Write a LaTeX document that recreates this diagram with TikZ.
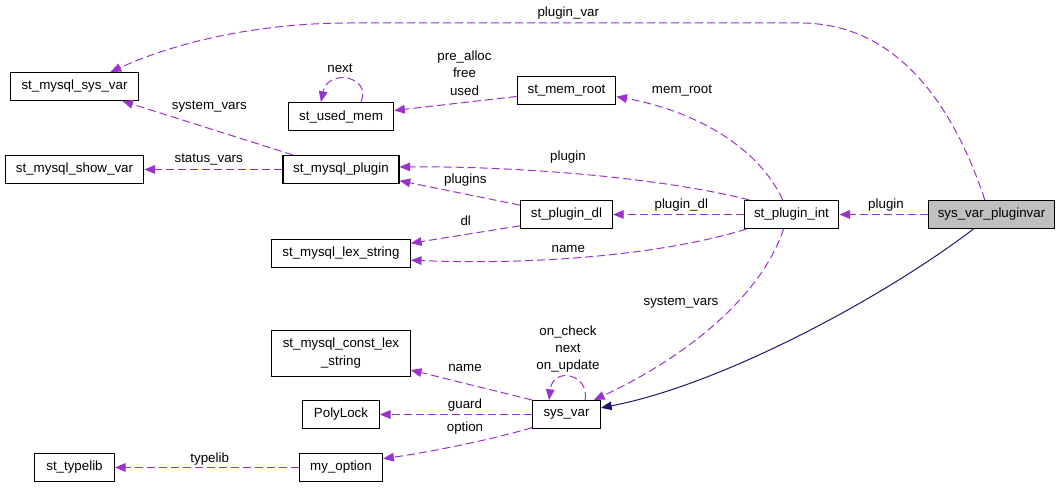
\documentclass[tikz,border=0pt]{standalone}
\usepackage{fontspec}
\setmainfont{Liberation Sans}
\usetikzlibrary{arrows.meta}
\definecolor{relcol}{HTML}{9A32CD}
\definecolor{inhcol}{HTML}{191970}
\begin{document}
\begin{tikzpicture}[x=0.75pt,y=-0.75pt,
    cls/.style={draw,line width=0.8pt,minimum height=21pt,inner sep=2pt,font=\fontsize{10}{13.5}\selectfont,align=center},
    rel/.style={relcol,dashed,dash pattern=on 6pt off 3pt,line width=0.75pt,-{Triangle[length=8pt,width=6.5pt]}},
    inh/.style={inhcol,line width=0.75pt,-{Triangle[length=8pt,width=6.5pt]}},
    lbl/.style={font=\fontsize{10}{13}\selectfont,align=center,inner sep=0pt}]
    %frame
    \useasboundingbox (0,0) rectangle (1061,488);

    %classes
    \node[cls,minimum width=96pt] (sysvarS) at (74.5,86.5) {st\_mysql\_sys\_var};
    \node[cls,minimum width=104pt] (showvar) at (74.5,169.5) {st\_mysql\_show\_var};
    \node[cls,minimum width=79pt] (usedmem) at (341,116.5) {st\_used\_mem};
    \node[cls,minimum width=87pt] (mplugin) at (341,169.5) {st\_mysql\_plugin};
    \node[cls,minimum width=104pt] (lexstr) at (341,253.5) {st\_mysql\_lex\_string};
    \node[cls,minimum width=104pt,minimum height=34pt] (constlex) at (341,353.5) {st\_mysql\_const\_lex\\\_string};
    \node[cls,minimum width=57.5pt] (polylock) at (341,414.5) {PolyLock};
    \node[cls,minimum width=60pt] (typelib) at (74.5,467.5) {st\_typelib};
    \node[cls,minimum width=62.5pt] (myoption) at (341,467.5) {my\_option};
    \node[cls,minimum width=74pt] (memroot) at (566.5,90.5) {st\_mem\_root};
    \node[cls,minimum width=69pt] (plugindl) at (566.5,214.5) {st\_plugin\_dl};
    \node[cls,minimum width=71pt] (pluginint) at (791.5,214.5) {st\_plugin\_int};
    \node[cls,minimum width=95pt,fill=black!25] (pluginvar) at (991.5,214.5) {sys\_var\_pluginvar};
    \node[cls,minimum width=51pt] (sysvar) at (566.5,414.5) {sys\_var};

    %sys_var_pluginvar
    \draw[rel] ([xshift=-5pt]pluginvar.north) .. controls (955,110) and (900,23) .. (800,23) -- (350,23) .. controls (250,23) and (170,45) .. ([xshift=27pt]sysvarS.north);
    \node[lbl] (lplugvar) at (568.3,13.3) {plugin\_var};
    \draw[rel] (pluginvar.west) -- (pluginint.east);
    \node[lbl] (lplugA) at (886,205) {plugin};
    \draw[inh] ([xshift=-13.5pt]pluginvar.south) .. controls (880,300) and (720,385) .. ([yshift=5pt]sysvar.east);

    %st_plugin_int
    \draw[rel] ([xshift=-6.6pt]pluginint.north) .. controls (760,150) and (700,112) .. ([yshift=-4.6pt]memroot.east);
    \node[lbl] (lmemroot) at (682,90.7) {mem\_root};
    \draw[rel] ([xshift=4.3pt]pluginint.north west) .. controls (650,175) and (500,166) .. ([yshift=1.9pt]mplugin.east);
    \node[lbl] (lplugB) at (568,156.7) {plugin};
    \draw[rel] (pluginint.west) -- (plugindl.east);
    \node[lbl] (lplugdl) at (681.3,205) {plugin\_dl};
    \draw[rel] ([xshift=2pt]pluginint.south west) .. controls (680,250) and (560,266) .. ([yshift=-5pt]lexstr.east);
    \node[lbl] (lnameA) at (568.3,249) {name};
    \draw[rel] ([xshift=-6pt]pluginint.south) .. controls (760,300) and (680,360) .. ([xshift=20.6pt]sysvar.north);
    \node[lbl] (lsysvarsA) at (681,303) {system\_vars};

    %st_plugin_dl and st_mem_root
    \draw[rel] ([yshift=7pt]plugindl.west) -- ([yshift=2.5pt]mplugin.south east);
    \node[lbl] (lplugins) at (465.3,180) {plugins};
    \draw[rel] ([yshift=-8.5pt]plugindl.west) -- ([yshift=7.7pt]lexstr.east);
    \node[lbl] (ldl) at (465.7,220.7) {dl};
    \draw[rel] ([yshift=-4.5pt]memroot.west) -- ([yshift=4.5pt]usedmem.east);
    \node[lbl] (lmem) at (464.5,73) {pre\_alloc\\free\\used};
    \draw[rel] ([xshift=15pt]usedmem.north) .. controls (372,76) and (328,68) .. ([xshift=-15pt]usedmem.north);
    \node[lbl] (lnextA) at (340,68) {next};

    %st_mysql_plugin
    \draw[rel] ([xshift=-36pt]mplugin.north) -- ([xshift=-12.5pt]sysvarS.south east);
    \node[lbl] (lsysvarsB) at (209.3,107) {system\_vars};
    \draw[rel] (mplugin.west) -- (showvar.east);
    \node[lbl] (lstatus) at (208.7,160) {status\_vars};

    %sys_var
    \draw[rel] (sysvar.north west) -- ([yshift=5pt]constlex.south east);
    \node[lbl] (lnameB) at (465,368) {name};
    \draw[rel] (sysvar.west) -- (polylock.east);
    \node[lbl] (lguard) at (465,404.7) {guard};
    \draw[rel] ([yshift=1pt]sysvar.south west) .. controls (490,440) and (430,452) .. ([yshift=6.6pt]myoption.east);
    \node[lbl] (loption) at (465,427.7) {option};
    \draw[rel] ([xshift=13.9pt]sysvar.north) .. controls (590,374) and (553,366) .. ([xshift=-13.1pt]sysvar.north);
    \node[lbl] (lsysloop) at (568,349) {on\_check\\next\\on\_update};

    %my_option
    \draw[rel] (myoption.west) -- (typelib.east);
    \node[lbl] (ltypelib) at (209.7,459) {typelib};
  \end{tikzpicture}
\end{document}
